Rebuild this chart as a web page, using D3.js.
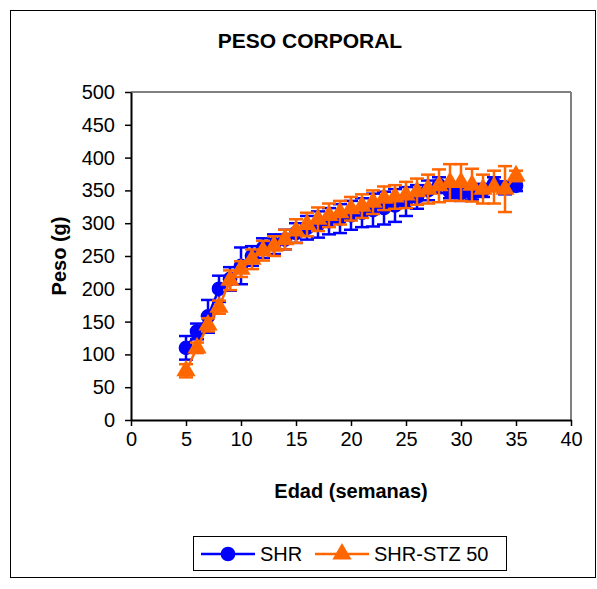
<!DOCTYPE html>
<html><head><meta charset="utf-8">
<script src="https://cdn.jsdelivr.net/npm/d3@7"></script>
<style>body{margin:0;background:#fff}svg{display:block}text{font-family:"Liberation Sans",Arial,sans-serif}</style>
</head><body><svg id="c" width="597" height="589"></svg>
<script>
const weeks = [5,6,7,8,9,10,11,12,13,14,15,16,17,18,19,20,21,22,23,24,25,26,27,28,29,30,31,32,33,34,35];
const shr = [110,135,158,200,215,235,250,262,268,275,285,293,298,303,307,312,316,320,323,327,333,340,350,358,348,346,346,350,360,354,357];
const shrErr = [18,12,25,20,18,28,15,15,15,15,15,18,20,20,22,22,22,25,25,25,22,18,15,12,10,12,10,10,10,10,8];
const stz = [75,110,145,172,213,230,245,258,265,275,288,298,306,312,316,322,326,332,338,340,343,348,352,357,362,362,358,352,355,352,372];
const stzErr = [10,8,10,10,15,12,15,15,15,15,18,18,18,18,18,18,18,18,18,18,20,20,22,25,28,28,25,22,25,35,8];
const xTicks = [0,5,10,15,20,25,30,35,40];
const yTicks = [0,50,100,150,200,250,300,350,400,450,500];
const seriesNames = ["SHR","SHR-STZ 50"];

const svg = d3.select("#c");
const L=131,R=571,T=92,B=420;
const x = d3.scaleLinear().domain([0,40]).range([L,R]);
const y = d3.scaleLinear().domain([0,500]).range([B,T]);
const blue="#0000ff", orange="#ff6600";

svg.append("rect").attr("x",10.5).attr("y",10.5).attr("width",585).attr("height",567).attr("fill","#fff").attr("stroke","#000").attr("stroke-width",1);

svg.append("line").attr("x1",L).attr("x2",R).attr("y1",T).attr("y2",T).attr("stroke","#808080").attr("stroke-width",2);
svg.append("line").attr("x1",R).attr("x2",R).attr("y1",T).attr("y2",B).attr("stroke","#808080").attr("stroke-width",2);

const xa = svg.append("g").attr("transform",`translate(0,${B})`).call(d3.axisBottom(x).tickValues(xTicks).tickSize(6).tickPadding(6).tickSizeOuter(0));
const ya = svg.append("g").attr("transform",`translate(${L},0)`).call(d3.axisLeft(y).tickValues(yTicks).tickSize(6).tickPadding(10).tickSizeOuter(0));
[xa,ya].forEach(a=>{a.select(".domain").attr("stroke","#000").attr("stroke-width",2);a.selectAll(".tick line").attr("stroke","#000").attr("stroke-width",1.5);a.selectAll("text").attr("font-size",20).attr("fill","#000").style("font-family","Liberation Sans, Arial, sans-serif");});

svg.append("text").attr("x",310).attr("y",48).attr("text-anchor","middle").attr("font-size",21).attr("font-weight","bold").text("PESO CORPORAL");
svg.append("text").attr("x",351).attr("y",498).attr("text-anchor","middle").attr("font-size",20).attr("font-weight","bold").text("Edad (semanas)");
svg.append("text").attr("transform","translate(66,256) rotate(-90)").attr("text-anchor","middle").attr("font-size",20).attr("font-weight","bold").text("Peso (g)");

function drawSeries(vals, errs, color, shape){
  const g = svg.append("g");
  const line = d3.line().x((d,i)=>x(weeks[i])).y(d=>y(d));
  g.append("path").datum(vals).attr("d",line).attr("fill","none").attr("stroke",color).attr("stroke-width",2.5);
  weeks.forEach((w,i)=>{
    const cx=x(w), lo=y(vals[i]-errs[i]), hi=y(vals[i]+errs[i]);
    g.append("line").attr("x1",cx).attr("x2",cx).attr("y1",lo).attr("y2",hi).attr("stroke",color).attr("stroke-width",2.5);
    [lo,hi].forEach(yy=>g.append("line").attr("x1",cx-7).attr("x2",cx+7).attr("y1",yy).attr("y2",yy).attr("stroke",color).attr("stroke-width",2.5));
  });
  const sym = d3.symbol().type(shape).size(shape===d3.symbolCircle?170:160);
  weeks.forEach((w,i)=>{
    g.append("path").attr("d",sym()).attr("transform",`translate(${x(w)},${y(vals[i])})`).attr("fill",color);
  });
}
drawSeries(shr, shrErr, blue, d3.symbolCircle);
drawSeries(stz, stzErr, orange, d3.symbolTriangle);

svg.append("rect").attr("x",193.5).attr("y",536.5).attr("width",313).attr("height",34).attr("fill","#fff").attr("stroke","#000");
const lg = [{name:seriesNames[0],color:blue,shape:d3.symbolCircle,x0:201},{name:seriesNames[1],color:orange,shape:d3.symbolTriangle,x0:315}];
lg.forEach(d=>{
  svg.append("line").attr("x1",d.x0).attr("x2",d.x0+54).attr("y1",554).attr("y2",554).attr("stroke",d.color).attr("stroke-width",2.5);
  svg.append("path").attr("d",d3.symbol().type(d.shape).size(d.shape===d3.symbolCircle?170:160)()).attr("transform",`translate(${d.x0+27},554)`).attr("fill",d.color);
  svg.append("text").attr("x",d.x0+59).attr("y",561).attr("font-size",20).text(d.name);
});
</script></body></html>
